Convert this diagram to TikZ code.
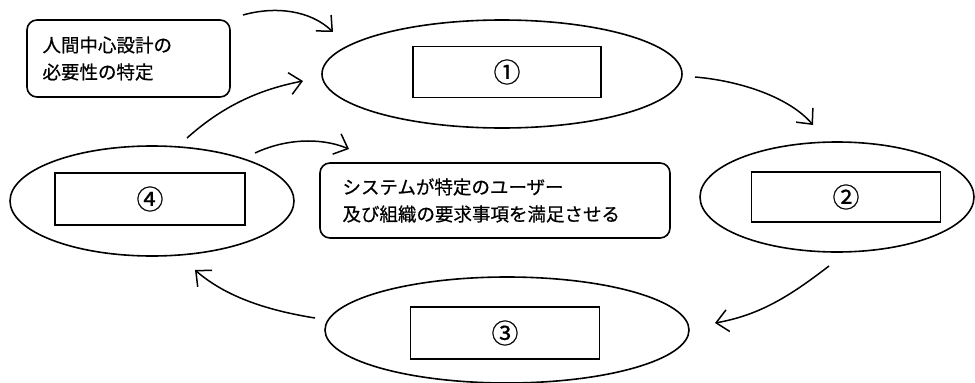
\documentclass[tikz,border=0pt]{standalone}
\usepackage{fontspec}
\newfontfamily\jp[FakeBold=0.6]{Noto Sans CJK JP}
\usetikzlibrary{shapes.geometric,arrows.meta}
\begin{document}
\begin{tikzpicture}[x=1pt,y=-1pt,
  line width=1.6pt,
  oval/.style={draw,ellipse,inner sep=0pt},
  numbox/.style={draw,rectangle,inner sep=0pt,font=\jp\fontsize{27}{30}\selectfont},
  textbox/.style={draw,rounded corners=10pt,inner sep=0pt,align=left,font=\jp\fontsize{18.5}{27}\selectfont},
  flow/.style={-{Straight Barb[length=12pt,width=22pt,line width=1.5pt]},line width=1.5pt}]
\useasboundingbox (0,0) rectangle (975,383);
% ellipses
\node[oval,minimum width=360pt,minimum height=108pt] (e1) at (502,74) {};
\node[oval,minimum width=274pt,minimum height=110pt] (e2) at (837,197) {};
\node[oval,minimum width=364pt,minimum height=106pt] (e3) at (507,330) {};
\node[oval,minimum width=284pt,minimum height=110pt] (e4) at (152,201) {};
% number boxes
\node[numbox,minimum width=188pt,minimum height=51pt] (r1) at (507,72) {①};
\node[numbox,minimum width=189pt,minimum height=50pt] (r2) at (846,197) {②};
\node[numbox,minimum width=189pt,minimum height=52pt] (r3) at (505,333) {③};
\node[numbox,minimum width=190pt,minimum height=52pt] (r4) at (150,199) {④};
% text boxes
\node[textbox,minimum width=203pt,minimum height=77pt,text width=172pt] (t1) at (128.5,58.5) {人間中心設計の\\必要性の特定};
\node[textbox,minimum width=350pt,minimum height=75pt,text width=305pt] (t2) at (495,200.5) {システムが特定のユーザー\\及び組織の要求事項を満足させる};
% arrow endpoints
\coordinate (a1s) at (243,15);  \coordinate (a1e) at (333,32);
\coordinate (a2s) at (187,138); \coordinate (a2e) at (303,81);
\coordinate (a3s) at (255,153); \coordinate (a3e) at (349,149);
\coordinate (a4s) at (695,77);  \coordinate (a4e) at (813,125);
\coordinate (a5s) at (829,266); \coordinate (a5e) at (715,323);
\coordinate (a6s) at (315,318); \coordinate (a6e) at (195,270);
\draw[flow] (a1s) .. controls (275,6) and (310,10) .. (a1e);
\draw[flow] (a2s) .. controls (225,104) and (262,89) .. (a2e);
\draw[flow] (a3s) .. controls (285,139) and (320,137) .. (a3e);
\draw[flow] (a4s) .. controls (742,81) and (790,98) .. (a4e);
\draw[flow] (a5s) .. controls (790,296) and (760,315) .. (a5e);
\draw[flow] (a6s) .. controls (265,310) and (225,296) .. (a6e);
\end{tikzpicture}
\end{document}
